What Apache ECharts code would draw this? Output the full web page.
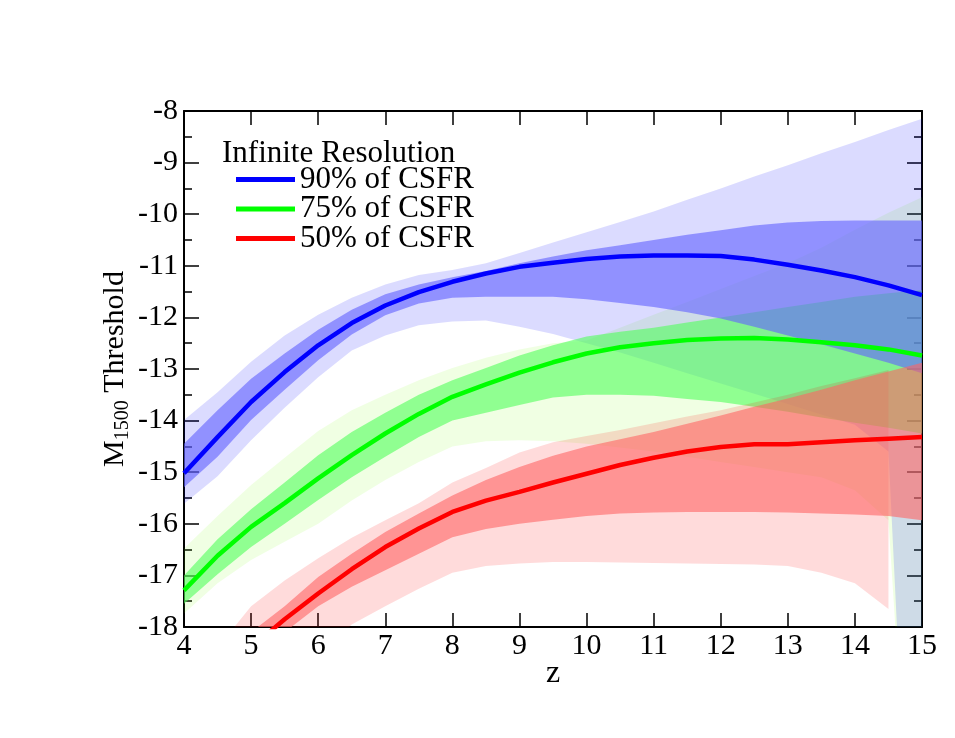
<!DOCTYPE html>
<html>
<head>
<meta charset="utf-8">
<script src="https://cdn.jsdelivr.net/npm/echarts@6/dist/echarts.min.js"></script>
<style>
  html, body { margin: 0; padding: 0; background: #fff; }
  #chart { width: 955px; height: 738px; }
</style>
</head>
<body>
<div id="chart"></div>
<script>
// redshift grid
var zValues = [4, 4.5, 5, 5.5, 6, 6.5, 7, 7.5, 8, 8.5, 9, 9.5, 10, 10.5, 11, 11.5, 12, 12.5, 13, 13.5, 14, 14.5, 15];

// 90% of CSFR
var blueMid     = [-15.02, -14.32, -13.64, -13.06, -12.54, -12.11, -11.77, -11.51, -11.31, -11.15, -11.02, -10.94, -10.87, -10.82, -10.80, -10.80, -10.81, -10.88, -10.98, -11.09, -11.22, -11.38, -11.57];
var blueDarkHi  = [-14.45, -13.8, -13.19, -12.7, -12.24, -11.85, -11.55, -11.36, -11.22, -11.1, -10.95, -10.82, -10.7, -10.6, -10.5, -10.4, -10.31, -10.22, -10.16, -10.13, -10.12, -10.12, -10.12];
var blueDarkLo  = [-15.29, -14.7, -13.99, -13.4, -12.83, -12.33, -11.96, -11.73, -11.62, -11.6, -11.6, -11.6, -11.65, -11.72, -11.8, -11.9, -12.02, -12.18, -12.35, -12.52, -12.7, -12.88, -13.08];
var blueLightHi = [-13.99, -13.45, -12.86, -12.35, -11.95, -11.62, -11.36, -11.18, -11.08, -10.95, -10.75, -10.55, -10.35, -10.15, -9.95, -9.72, -9.5, -9.27, -9.05, -8.82, -8.6, -8.37, -8.15];
var blueLightLo = [-15.61, -15.08, -14.38, -13.75, -13.16, -12.64, -12.35, -12.15, -12.08, -12.06, -12.18, -12.32, -12.5, -12.68, -12.88, -13.08, -13.28, -13.48, -13.68, -13.88, -14.08, -14.6, -28];

// 75% of CSFR
var greenMid     = [-17.29, -16.62, -16.06, -15.6, -15.12, -14.67, -14.25, -13.87, -13.54, -13.3, -13.07, -12.87, -12.7, -12.58, -12.5, -12.44, -12.41, -12.4, -12.43, -12.48, -12.54, -12.62, -12.74];
var greenDarkHi  = [-17.0, -16.3, -15.72, -15.2, -14.67, -14.22, -13.85, -13.5, -13.22, -12.98, -12.74, -12.54, -12.37, -12.28, -12.2, -12.1, -12.0, -11.9, -11.8, -11.7, -11.6, -11.53, -11.47];
var greenDarkLo  = [-17.55, -16.98, -16.45, -16.0, -15.54, -15.1, -14.7, -14.32, -14.0, -13.85, -13.7, -13.55, -13.5, -13.5, -13.52, -13.58, -13.64, -13.73, -13.83, -13.94, -14.04, -14.14, -14.25];
var greenLightHi = [-16.48, -15.85, -15.25, -14.72, -14.2, -13.8, -13.5, -13.22, -12.98, -12.78, -12.62, -12.5, -12.45, -12.2, -11.95, -11.7, -11.45, -11.2, -10.95, -10.65, -10.3, -9.97, -9.67];
var greenLightLo = [-17.74, -17.15, -16.7, -16.35, -16.0, -15.55, -15.15, -14.8, -14.5, -14.4, -14.38, -14.4, -14.45, -14.52, -14.6, -14.7, -14.8, -14.9, -15.0, -15.1, -15.35, -15.93, -26];

// 50% of CSFR (light band has no value at z = 15)
var redMid     = [-19.6, -19.0, -18.4, -17.85, -17.35, -16.88, -16.45, -16.09, -15.77, -15.55, -15.38, -15.2, -15.03, -14.86, -14.72, -14.6, -14.51, -14.46, -14.46, -14.42, -14.38, -14.35, -14.32];
var redDarkHi  = [-19.7, -18.9, -18.1, -17.6, -17.03, -16.58, -16.16, -15.8, -15.45, -15.15, -14.9, -14.68, -14.5, -14.36, -14.22, -14.06, -13.9, -13.73, -13.57, -13.4, -13.22, -13.05, -12.88];
var redDarkLo  = [-20.5, -19.4, -18.75, -18.1, -17.6, -17.22, -16.9, -16.58, -16.26, -16.1, -16.0, -15.92, -15.85, -15.8, -15.78, -15.77, -15.77, -15.77, -15.78, -15.8, -15.82, -15.85, -15.93];
var redLightHi = [-19.2, -18.4, -17.6, -17.1, -16.67, -16.27, -15.93, -15.6, -15.2, -14.92, -14.62, -14.42, -14.3, -14.18, -14.05, -13.92, -13.8, -13.65, -13.5, -13.33, -13.18, -13.02, null];
var redLightLo = [-21.0, -20.5, -20.0, -19.3, -18.6, -17.95, -17.6, -17.26, -16.95, -16.82, -16.77, -16.74, -16.74, -16.75, -16.76, -16.77, -16.78, -16.79, -16.82, -16.95, -17.15, -17.65, null];

var xTicks = [4, 5, 6, 7, 8, 9, 10, 11, 12, 13, 14, 15];
var legendNames = ['90% of CSFR', '75% of CSFR', '50% of CSFR'];

var FONT = 'Liberation Serif';

function pairs(arr) {
  return zValues.map(function (z, i) { return [z, arr[i]]; });
}

// filled band between lo and hi, drawn as one polygon through the axes
function band(id, lo, hi, fill) {
  var idx = [];
  zValues.forEach(function (z, i) { if (lo[i] != null && hi[i] != null) idx.push(i); });
  return {
    type: 'custom', name: id, silent: true, z: 2,
    data: idx.map(function (i) { return [zValues[i], lo[i], hi[i]]; }),
    encode: { x: 0, y: [1, 2] },
    renderItem: function (params, api) {
      if (params.dataIndex !== 0) return null;
      var pts = [];
      idx.forEach(function (i) { pts.push(api.coord([zValues[i], hi[i]])); });
      idx.slice().reverse().forEach(function (i) { pts.push(api.coord([zValues[i], lo[i]])); });
      var cs = params.coordSys;
      return {
        type: 'polygon',
        shape: { points: pts },
        style: { fill: fill, stroke: null },
        clipPath: { type: 'rect', shape: { x: cs.x, y: cs.y, width: cs.width, height: cs.height } }
      };
    }
  };
}

function medianLine(name, arr, color) {
  return {
    type: 'line', name: name, data: pairs(arr), symbol: 'none',
    color: color, lineStyle: { color: color, width: 4.5 }, z: 5
  };
}

var series = [
  band('gl', greenLightLo, greenLightHi, 'rgba(120,255,0,0.11)'),
  band('bl', blueLightLo, blueLightHi, 'rgba(0,0,255,0.14)'),
  band('gd', greenDarkLo, greenDarkHi, 'rgba(80,255,90,0.6)'),
  band('bd', blueDarkLo, blueDarkHi, 'rgba(100,100,255,0.62)'),
  band('rl', redLightLo, redLightHi, 'rgba(255,0,0,0.14)'),
  band('rd', redDarkLo, redDarkHi, 'rgba(255,100,100,0.6)'),
  medianLine(legendNames[0], blueMid, '#0000ff'),
  medianLine(legendNames[1], greenMid, '#00ff00'),
  medianLine(legendNames[2], redMid, '#ff0000')
];

var chart = echarts.init(document.getElementById('chart'));

var option = {
  animation: false,
  backgroundColor: '#ffffff',
  title: {
    text: 'Infinite Resolution',
    left: 217, top: 133,
    textStyle: { fontFamily: FONT, fontSize: 31, fontWeight: 'normal', color: '#000' }
  },
  legend: {
    data: legendNames,
    orient: 'vertical',
    left: 231, top: 159,
    icon: 'rect',
    itemWidth: 59, itemHeight: 5, itemGap: -1.5,
    textStyle: { fontFamily: FONT, fontSize: 31, color: '#000', lineHeight: 29 },
    selectedMode: false
  },
  grid: { left: 184, right: 33, top: 111, bottom: 111, containLabel: false },
  xAxis: [
    {
      type: 'value', min: 4, max: 15, interval: 1,
      name: 'z', nameLocation: 'middle', nameGap: 31, nameMoveOverlap: false,
      nameTextStyle: { fontFamily: FONT, fontSize: 32, color: '#000' },
      axisLine: { show: true, onZero: false, lineStyle: { color: '#000', width: 2 } },
      axisTick: { show: true, inside: true, length: 14, lineStyle: { color: '#000', width: 1.5 } },
      axisLabel: {
        fontFamily: FONT, fontSize: 30, color: '#000', margin: 4,
        formatter: function (v) { return xTicks.indexOf(v) >= 0 ? String(v) : ''; }
      },
      splitLine: { show: false }
    },
    {
      type: 'value', min: 4, max: 15, interval: 1, position: 'top',
      axisLine: { show: true, onZero: false, lineStyle: { color: '#000', width: 2 } },
      axisTick: { show: true, inside: true, length: 14, lineStyle: { color: '#000', width: 1.5 } },
      axisLabel: { show: false },
      splitLine: { show: false }
    }
  ],
  yAxis: [
    {
      type: 'value', min: -18, max: -8, interval: 1,
      name: '{m|M}{s|1500}{m| Threshold}',
      nameLocation: 'middle', nameGap: 52, nameMoveOverlap: false,
      nameTextStyle: {
        fontFamily: FONT, color: '#000',
        rich: {
          m: { fontFamily: FONT, fontSize: 30, color: '#000', lineHeight: 34 },
          s: { fontFamily: FONT, fontSize: 20, color: '#000', lineHeight: 34, padding: [16, 0, 0, 0] }
        }
      },
      axisLine: { show: true, onZero: false, lineStyle: { color: '#000', width: 2 } },
      axisTick: { show: true, inside: true, length: 15, lineStyle: { color: '#000', width: 1.5 } },
      minorTick: { show: true, splitNumber: 2, length: 8, lineStyle: { color: '#000', width: 1.5 } },
      axisLabel: { fontFamily: FONT, fontSize: 30, color: '#000', margin: 6 },
      splitLine: { show: false }
    },
    {
      type: 'value', min: -18, max: -8, interval: 1, position: 'right',
      axisLine: { show: true, onZero: false, lineStyle: { color: '#000', width: 2 } },
      axisTick: { show: true, inside: true, length: 15, lineStyle: { color: '#000', width: 1.5 } },
      minorTick: { show: true, splitNumber: 2, length: 8, lineStyle: { color: '#000', width: 1.5 } },
      axisLabel: { show: false },
      splitLine: { show: false }
    }
  ],
  series: series
};

chart.setOption(option);
</script>
</body>
</html>
